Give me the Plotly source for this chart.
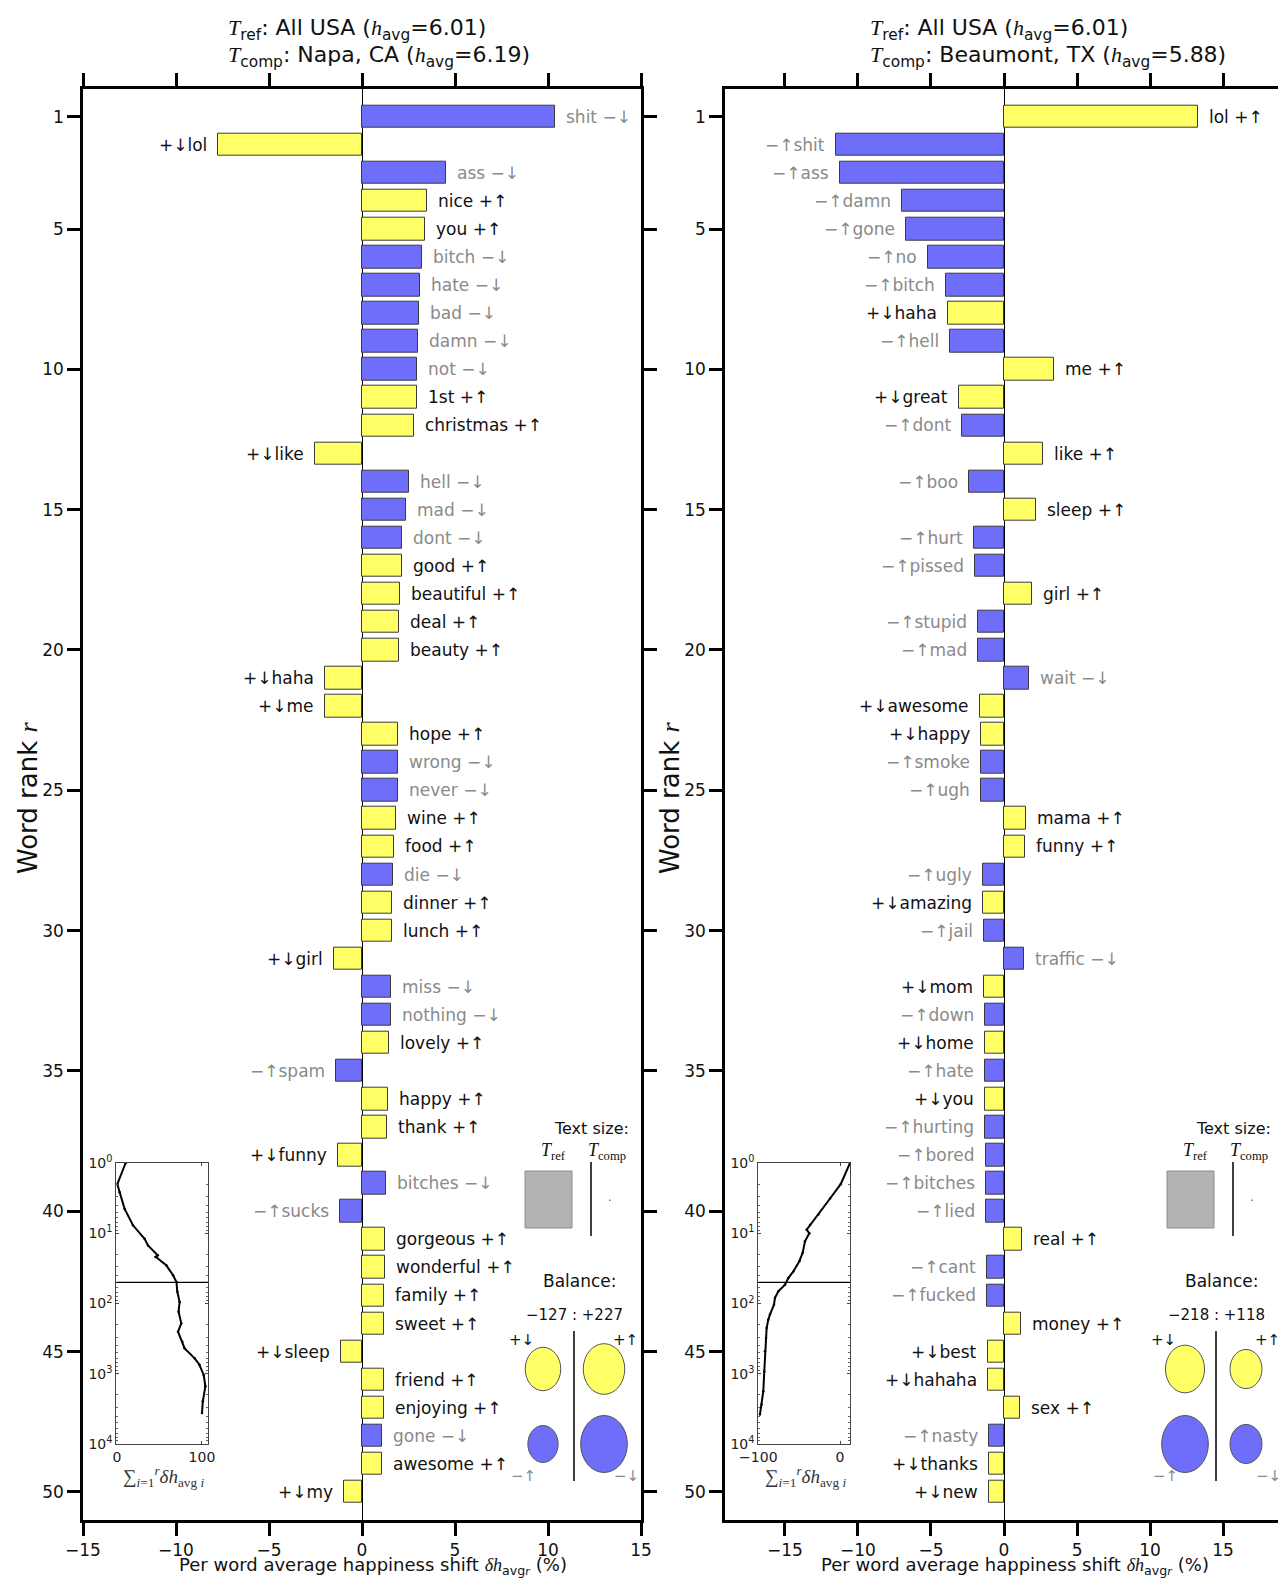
import math
import plotly.graph_objects as go

W, H = 1286, 1580

# ---------------- data ----------------
ranks = list(range(1, 51))

napa_words = ["shit", "lol", "ass", "nice", "you", "bitch", "hate", "bad", "damn", "not",
              "1st", "christmas", "like", "hell", "mad", "dont", "good", "beautiful", "deal", "beauty",
              "haha", "me", "hope", "wrong", "never", "wine", "food", "die", "dinner", "lunch",
              "girl", "miss", "nothing", "lovely", "spam", "happy", "thank", "funny", "bitches", "sucks",
              "gorgeous", "wonderful", "family", "sweet", "sleep", "friend", "enjoying", "gone", "awesome", "my"]
napa_shift = [10.39, -7.75, 4.5, 3.47, 3.41, 3.25, 3.14, 3.04, 3.02, 2.98,
              2.95, 2.82, -2.55, 2.55, 2.36, 2.17, 2.15, 2.05, 2.0, 2.0,
              -1.97, -1.97, 1.95, 1.95, 1.93, 1.82, 1.72, 1.66, 1.62, 1.6,
              -1.5, 1.55, 1.55, 1.45, -1.4, 1.38, 1.32, -1.27, 1.3, -1.2,
              1.24, 1.24, 1.2, 1.2, -1.14, 1.18, 1.17, 1.1, 1.08, -0.98]
napa_kind = ["-", "+", "-", "+", "+", "-", "-", "-", "-", "-",
             "+", "+", "+", "-", "-", "-", "+", "+", "+", "+",
             "+", "+", "+", "-", "-", "+", "+", "-", "+", "+",
             "+", "-", "-", "+", "-", "+", "+", "+", "-", "-",
             "+", "+", "+", "+", "+", "+", "+", "-", "+", "+"]

beau_words = ["lol", "shit", "ass", "damn", "gone", "no", "bitch", "haha", "hell", "me",
              "great", "dont", "like", "boo", "sleep", "hurt", "pissed", "girl", "stupid", "mad",
              "wait", "awesome", "happy", "smoke", "ugh", "mama", "funny", "ugly", "amazing", "jail",
              "traffic", "mom", "down", "home", "hate", "you", "hurting", "bored", "bitches", "lied",
              "real", "cant", "fucked", "money", "best", "hahaha", "sex", "nasty", "thanks", "new"]
beau_shift = [13.3, -11.5, -11.2, -7.0, -6.7, -5.2, -4.0, -3.8, -3.7, 3.45,
              -3.1, -2.9, 2.7, -2.4, 2.2, -2.05, -1.97, 1.9, -1.78, -1.78,
              1.68, -1.63, -1.57, -1.57, -1.55, 1.5, 1.45, -1.43, -1.42, -1.38,
              1.36, -1.35, -1.3, -1.3, -1.3, -1.28, -1.27, -1.23, -1.22, -1.2,
              1.22, -1.17, -1.17, 1.16, -1.1, -1.1, 1.1, -1.05, -1.04, -1.03]
beau_kind = ["+", "-", "-", "-", "-", "-", "-", "+", "-", "+",
             "+", "-", "+", "-", "+", "-", "-", "+", "-", "-",
             "-", "+", "+", "-", "-", "+", "+", "-", "+", "-",
             "-", "+", "-", "+", "-", "+", "-", "-", "-", "-",
             "+", "-", "-", "+", "+", "+", "+", "-", "+", "+"]

# cumulative shift (inset)
napa_cum_rank = [1, 2, 2.6, 4.5, 7.7, 12, 14.9, 20.6, 21.7, 28.6, 39.6, 49.5, 68, 95, 131,
                 192, 252, 350, 435, 603, 745, 1040, 1510, 2470, 3630]
napa_cum_val = [10.2, 0.4, 3.1, 9, 18.8, 32.5, 36.5, 48, 45.5, 58, 66, 70, 71, 73.7, 72.5,
                75.7, 71.8, 76.9, 79.6, 91.4, 97, 102, 104, 101, 100]
beau_cum_rank = [1, 2, 3.2, 5.4, 7.6, 8.9, 10, 13, 19, 25, 35, 43.5, 54, 67, 83, 104, 143,
                 170, 224, 310, 480, 930, 1780, 2750, 3800]
beau_cum_val = [12.2, 0.8, -12.2, -26.5, -36.7, -40.8, -37.6, -42.9, -45.7, -49.8, -57.1,
                -63.3, -67.3, -75.5, -79.6, -80.8, -85.7, -87.8, -89.8, -90.6, -91.8, -92.7,
                -93.9, -95.9, -98]

# balance legend: relative circle areas [+down, +up, -up, -down]
napa_balance = [0.58, 0.79, 0.42, 1.0]
beau_balance = [0.70, 0.47, 1.0, 0.47]
napa_balance_text = "−127 : +227"
beau_balance_text = "−218 : +118"

napa_title = ("All USA", "6.01", "Napa, CA", "6.19")
beau_title = ("All USA", "6.01", "Beaumont, TX", "5.88")

x_ticks = [-15, -10, -5, 0, 5, 10, 15]
y_ticks = [1, 5, 10, 15, 20, 25, 30, 35, 40, 45, 50]

# ---------------- styling ----------------
YEL = "#FFFF66"
BLU = "#6E6EFA"
EDGE = "#3a3a3a"
GRAY_TXT = "#8a8a8a"
SANS = "DejaVu Sans"
SERIF = "Liberation Serif"


def px(x):
    return x / W


def py(y):
    return 1 - y / H


def mi(s):
    return f"<span style='font-family:{SERIF}'><i>{s}</i></span>"


fig = go.Figure()
annotations = []
shapes = []

panels = [
    dict(words=napa_words, shift=napa_shift, kind=napa_kind, xa="x", ya="y",
         left=75, right=633, xrange=[-15, 15], title=napa_title,
         cum_r=napa_cum_rank, cum_v=napa_cum_val, ixa="x3", iya="y3",
         irange=[-0.8, 107.1], iticks=[0, 100], bal=napa_balance, baltxt=napa_balance_text),
    dict(words=beau_words, shift=beau_shift, kind=beau_kind, xa="x2", ya="y2",
         left=717, right=1275, xrange=[-19.1, 19.1], title=beau_title,
         cum_r=beau_cum_rank, cum_v=beau_cum_val, ixa="x4", iya="y4",
         irange=[-100, 12.2], iticks=[-100, 0], bal=beau_balance, baltxt=beau_balance_text),
]

TOP, BOT = 80.7, 1512

layout_axes = {}
for k, p in enumerate(panels):
    xa, ya = p["xa"], p["ya"]
    xname = "xaxis" if xa == "x" else "xaxis" + xa[1:]
    yname = "yaxis" if ya == "y" else "yaxis" + ya[1:]
    colors = [YEL if kd == "+" else BLU for kd in p["kind"]]
    fig.add_trace(go.Bar(
        x=p["shift"], y=ranks, orientation="h", width=0.8,
        marker=dict(color=colors, line=dict(color=EDGE, width=1)),
        xaxis=xa, yaxis=ya, showlegend=False, hoverinfo="skip"))
    common_ax = dict(showline=True, linecolor="black", linewidth=2.5, mirror="ticks",
                     ticks="outside", ticklen=13, tickwidth=2.5, tickcolor="black",
                     showgrid=False, automargin=False,
                     tickfont=dict(family=SANS, size=17, color="#111"))
    layout_axes[xname] = dict(common_ax, domain=[px(p["left"]), px(p["right"])], anchor=ya,
                              range=p["xrange"], tickvals=x_ticks,
                              zeroline=True, zerolinecolor="black", zerolinewidth=1)
    layout_axes[yname] = dict(common_ax, domain=[py(BOT), py(TOP)], anchor=xa,
                              range=[51, 0], tickvals=y_ticks, zeroline=False)

    # word labels
    for r, w, v, kd in zip(ranks, p["words"], p["shift"], p["kind"]):
        up = (kd == "+") == (v > 0)
        arrow = "↑" if up else "↓"
        sign = "+" if kd == "+" else "−"
        if v > 0:
            txt = f"{w} {sign}{arrow}"
            anc, sh = "left", 9
        else:
            txt = f"{sign}{arrow}{w}"
            anc, sh = "right", -9
        annotations.append(dict(x=v, y=r, xref=xa, yref=ya, text=txt, showarrow=False,
                                xanchor=anc, yanchor="middle", xshift=sh,
                                font=dict(family=SANS, size=17,
                                          color="#111" if kd == "+" else GRAY_TXT)))

    L, R = p["left"], p["right"]
    # titles
    t = p["title"]
    tx = L + 143
    annotations.append(dict(x=px(tx), y=py(22), xref="paper", yref="paper", xanchor="left",
                            yanchor="middle", showarrow=False,
                            text=f"{mi('T')}<sub>ref</sub>: {t[0]} ({mi('h')}<sub>avg</sub>={t[1]})",
                            font=dict(family=SANS, size=22, color="#111")))
    annotations.append(dict(x=px(tx), y=py(48), xref="paper", yref="paper", xanchor="left",
                            yanchor="middle", showarrow=False,
                            text=f"{mi('T')}<sub>comp</sub>: {t[2]} ({mi('h')}<sub>avg</sub>={t[3]})",
                            font=dict(family=SANS, size=22, color="#111")))
    # axis titles
    annotations.append(dict(x=px((L + R) / 2 + 11), y=py(1572), xref="paper", yref="paper",
                            showarrow=False, xanchor="center", yanchor="bottom",
                            text=f"Per word average happiness shift {mi('δh')}<sub>avg{mi('r')}</sub> (%)",
                            font=dict(family=SANS, size=18, color="#111")))
    annotations.append(dict(x=px(L - 55), y=py(790), xref="paper", yref="paper",
                            showarrow=False, textangle=-90, xanchor="center", yanchor="middle",
                            text=f"Word rank {mi('r')}",
                            font=dict(family=SANS, size=26, color="#111")))

    # inset
    ixa, iya = p["ixa"], p["iya"]
    ixname = "xaxis" + ixa[1:]
    iyname = "yaxis" + iya[1:]
    fig.add_trace(go.Scatter(x=p["cum_v"], y=p["cum_r"], mode="lines+markers",
                             line=dict(color="black", width=2),
                             marker=dict(size=2.5, color="black"),
                             xaxis=ixa, yaxis=iya, showlegend=False, hoverinfo="skip"))
    inset_common = dict(showline=True, linecolor="#444", linewidth=1, mirror="allticks",
                        ticks="inside", ticklen=3, tickcolor="#444", showgrid=False,
                        zeroline=False, automargin=False,
                        tickfont=dict(family=SANS, size=14, color="#222"))
    layout_axes[ixname] = dict(inset_common, domain=[px(L + 33.3), px(L + 125)], anchor=iya,
                               range=p["irange"], tickvals=p["iticks"])
    decades = [1, 10, 100, 1000, 10000]
    minor_vals = [d * m for d in decades[:-1] for m in range(2, 10)]
    layout_axes[iyname] = dict(inset_common, domain=[py(1436), py(1155)], anchor=ixa,
                               type="log", range=[4, 0], tickvals=decades,
                               ticktext=[f"10<sup>{i}</sup>" for i in range(5)],
                               tickfont=dict(family=SANS, size=14, color="#222"),
                               minor=dict(tickvals=minor_vals, ticks="inside", ticklen=2,
                                          tickcolor="#666"))
    shapes.append(dict(type="line", xref=f"{ixa} domain", yref=iya, x0=0, x1=1,
                       y0=len(ranks), y1=len(ranks),
                       line=dict(color="black", width=1.3)))
    annotations.append(dict(x=px(L + 80), y=py(1468), xref="paper", yref="paper",
                            showarrow=False, xanchor="center", yanchor="middle",
                            text=f"<span style='font-family:{SERIF}'>∑<sub><i>i</i>=1</sub><sup><i>r</i></sup><i>δh</i><sub>avg <i>i</i></sub></span>",
                            font=dict(family=SERIF, size=19, color="#333")))

    # text-size legend
    annotations.append(dict(x=px(R - 10), y=py(1120), xref="paper", yref="paper",
                            showarrow=False, xanchor="right", yanchor="middle",
                            text="Text size:", font=dict(family=SANS, size=16, color="#111")))
    annotations.append(dict(x=px(R - 88), y=py(1143), xref="paper", yref="paper",
                            showarrow=False, xanchor="center", yanchor="middle",
                            text=f"{mi('T')}<sub>ref</sub>", font=dict(family=SERIF, size=18, color="#111")))
    annotations.append(dict(x=px(R - 34), y=py(1143), xref="paper", yref="paper",
                            showarrow=False, xanchor="center", yanchor="middle",
                            text=f"{mi('T')}<sub>comp</sub>", font=dict(family=SERIF, size=18, color="#111")))
    shapes.append(dict(type="rect", xref="paper", yref="paper",
                       x0=px(R - 116), x1=px(R - 69), y0=py(1220), y1=py(1163),
                       fillcolor="#b3b3b3", line=dict(color="#8c8c8c", width=1)))
    shapes.append(dict(type="line", xref="paper", yref="paper",
                       x0=px(R - 50), x1=px(R - 50), y0=py(1228), y1=py(1154),
                       line=dict(color="black", width=1.5)))
    shapes.append(dict(type="rect", xref="paper", yref="paper",
                       x0=px(R - 32), x1=px(R - 30.5), y0=py(1193), y1=py(1191.5),
                       fillcolor="#777", line=dict(width=0)))

    # balance legend
    annotations.append(dict(x=px(R - 61), y=py(1273), xref="paper", yref="paper",
                            showarrow=False, xanchor="center", yanchor="middle",
                            text="Balance:", font=dict(family=SANS, size=17, color="#111")))
    annotations.append(dict(x=px(R - 67), y=py(1307), xref="paper", yref="paper",
                            showarrow=False, xanchor="center", yanchor="middle",
                            text=p["baltxt"], font=dict(family=SANS, size=15, color="#111")))
    shapes.append(dict(type="line", xref="paper", yref="paper",
                       x0=px(R - 67), x1=px(R - 67), y0=py(1473), y1=py(1323),
                       line=dict(color="black", width=1.5)))
    centers = [(R - 98, 1361), (R - 37, 1361), (R - 98, 1436), (R - 37, 1436)]
    ccols = [YEL, YEL, BLU, BLU]
    for (cx, cy), wgt, cc in zip(centers, p["bal"], ccols):
        rx = 23.35 * math.sqrt(wgt)
        ry = 1.22 * rx
        shapes.append(dict(type="circle", xref="paper", yref="paper",
                           x0=px(cx - rx), x1=px(cx + rx), y0=py(cy + ry), y1=py(cy - ry),
                           fillcolor=cc, line=dict(color="#555", width=1)))
    for (lx, ly), lt, lc in zip([(R - 120, 1332), (R - 16, 1332), (R - 118, 1468), (R - 15, 1468)],
                                ["+↓", "+↑", "−↑", "−↓"],
                                ["#111", "#111", GRAY_TXT, GRAY_TXT]):
        annotations.append(dict(x=px(lx), y=py(ly), xref="paper", yref="paper",
                                showarrow=False, xanchor="center", yanchor="middle",
                                text=lt, font=dict(family=SANS, size=15, color=lc)))

fig.update_layout(
    template="none",
    width=W, height=H,
    margin=dict(l=0, r=0, t=0, b=0, pad=0),
    paper_bgcolor="white", plot_bgcolor="white",
    annotations=annotations, shapes=shapes,
    bargap=0, showlegend=False,
    **layout_axes,
)

fig.write_html("out.html")
